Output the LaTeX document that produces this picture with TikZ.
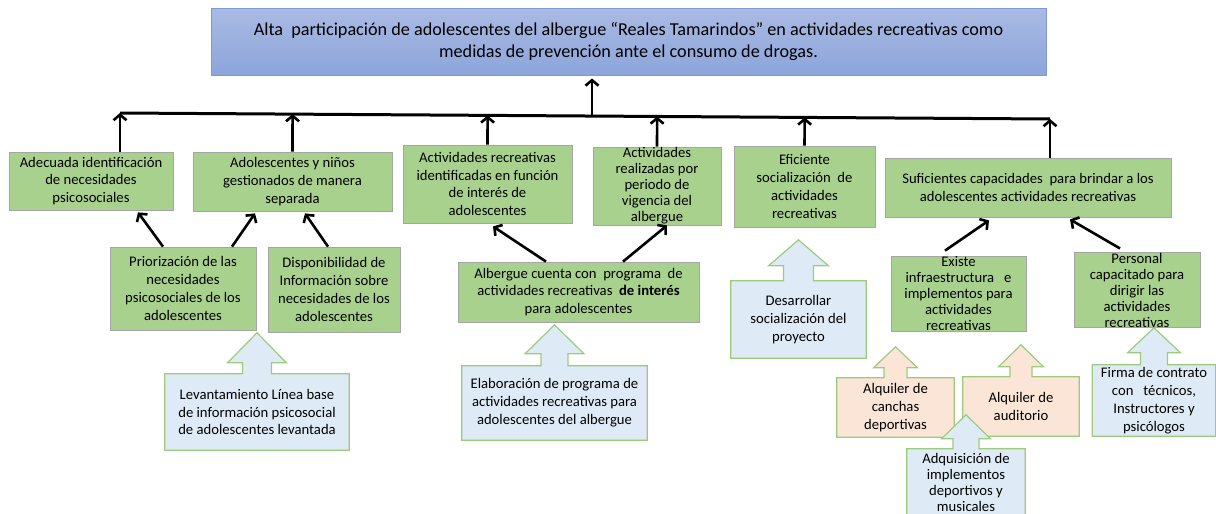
\documentclass[tikz,border=0pt]{standalone}
\usepackage{fontspec}
\setmainfont{Carlito}
\usetikzlibrary{arrows.meta,backgrounds}

\definecolor{verde}{HTML}{A9D18E}
\definecolor{gris}{HTML}{A5A5A5}
\definecolor{celeste}{HTML}{DEEBF7}
\definecolor{durazno}{HTML}{FBE5D6}
\definecolor{bordeverde}{HTML}{9CCB7C}
\definecolor{azularriba}{HTML}{AABAE3}
\definecolor{azulabajo}{HTML}{8CA5DB}
\definecolor{azulborde}{HTML}{7E9AD3}

\newcommand\letra{\fontsize{14.67}{17.9}\selectfont}
\newcommand\letrachica{\fontsize{14.67}{16}\selectfont}
\newcommand\letragrande{\fontsize{18.2}{22.5}\selectfont}

% flecha de bloque: nodo, relleno, medio cuerpo, media punta, largo cuerpo, largo punta
\newcommand\bloque[6]{%
	\begin{scope}[on background layer]
		\filldraw[fill=#2,draw=bordeverde,line width=1.2pt]
			(#1.south west) -- (#1.north west) -- ([xshift=-#3]#1.north) -- ++(0,-#5)
			-- ++({#3-#4},0) -- ++(#4,-#6) -- ++(#4,#6) -- ++({#3-#4},0) -- ++(0,#5)
			-- (#1.north east) -- (#1.south east) -- cycle;
	\end{scope}}

\begin{document}
\begin{tikzpicture}[x=1pt,y=-1pt,
	fin/.style={draw=azulborde,line width=1pt,top color=azularriba,bottom color=azulabajo,align=center,font=\letragrande,inner sep=2pt},
	medio/.style={draw=gris,line width=0.8pt,fill=verde,align=center,font=\letra,inner sep=2pt},
	accion/.style={align=center,font=\letra,inner sep=2pt},
	flecha/.style={line width=2.6pt,-{Straight Barb[length=5.5pt,width=13pt]}},
	linea/.style={line width=3pt}]
	\useasboundingbox (0,0) rectangle (1216,514);

	\node[fin,minimum width=835,minimum height=67] (fin) at (628.5,41.5) {Alta\ \ participación de adolescentes del albergue “Reales Tamarindos” en actividades recreativas como\\medidas de prevención ante el consumo de drogas.};

	\coordinate (izq) at (120,113);
	\coordinate (der) at (1050,119);
	\coordinate (cruce) at (592,116);
	\draw[linea] (izq) -- (der);
	\draw[flecha] (cruce) -- ([yshift=-3pt]fin.south -| cruce);

	\node[medio,minimum width=164,minimum height=58] (m1) at (91,181) {Adecuada identificación\\de necesidades\\psicosociales};
	\node[medio,minimum width=199,minimum height=59] (m2) at (292.5,181.5) {Adolescentes y niños\\gestionados de manera\\separada};
	\node[medio,minimum width=169,minimum height=78] (m3) at (487.5,184) {Actividades recreativas\\identificadas en función\\de interés de\\adolescentes};
	\node[medio,font=\letrachica,inner ysep=0pt,minimum width=128,minimum height=78] (m4) at (657,186) {Actividades\\realizadas por\\periodo de\\vigencia del\\albergue};
	\node[medio,minimum width=141,minimum height=81] (m5) at (804.5,186.5) {Eficiente\\socialización\ \ de\\actividades\\recreativas};
	\node[medio,minimum width=286,minimum height=59] (m6) at (1028,187.5) {Suficientes capacidades\ \ para brindar a los\\adolescentes actividades recreativas};

	\draw[flecha] (m1.north -| izq) -- (izq);
	\draw[flecha] (m2.north) -- (intersection of m2.north--m2.south and izq--der);
	\draw[flecha] (m3.north) -- (intersection of m3.north--m3.south and izq--der);
	\draw[flecha] (m4.north) -- (intersection of m4.north--m4.south and izq--der);
	\draw[flecha] (m5.north) -- (intersection of m5.north--m5.south and izq--der);
	\draw[flecha] (m6.north -| der) -- (der);

	\node[medio,minimum width=146,minimum height=83] (p1) at (183,288.5) {Priorización de las\\necesidades\\psicosociales de los\\adolescentes};
	\node[medio,minimum width=132,minimum height=85] (p2) at (334,289.5) {Disponibilidad de\\Información sobre\\necesidades de los\\adolescentes};
	\node[medio,minimum width=241,minimum height=60] (p3) at (578.5,292) {Albergue cuenta con\ \ programa\ \ de\\actividades recreativas\ \ \textbf{de interés}\\para adolescentes};
	\node[medio,font=\letrachica,inner ysep=0pt,minimum width=135,minimum height=75] (p4) at (958.5,293.5) {Existe\\infraestructura\ \ \ e\\implementos para\\actividades\\recreativas};
	\node[medio,font=\letrachica,inner ysep=0pt,minimum width=126,minimum height=74] (p5) at (1137,290) {Personal\\capacitado para\\dirigir las\\actividades\\recreativas};

	\draw[flecha] ([xshift=-20]p1.north) -- ([xshift=47,yshift=-2]m1.south);
	\draw[flecha] ([xshift=49]p1.north) -- ([xshift=-37.5,yshift=-2]m2.south);
	\draw[flecha] ([xshift=-6]p2.north) -- ([xshift=12.5,yshift=-2]m2.south);
	\draw[flecha] ([xshift=-32.5]p3.north) -- ([xshift=5.5,yshift=-3]m3.south);
	\draw[flecha] ([xshift=44.5]p3.north) -- ([xshift=10]m4.south);
	\draw[flecha] ([xshift=-13.5,yshift=5]p4.north) -- ([xshift=-39,yshift=-3]m6.south);
	\draw[flecha] ([xshift=-17,yshift=4]p5.north) -- ([xshift=42,yshift=-2]m6.south);

	\node[accion,minimum width=184,minimum height=76] (a1) at (257,412) {Levantamiento Línea base\\de información psicosocial\\de adolescentes levantada};
	\bloque{a1}{celeste}{14.5}{29.5}{11}{30}
	\node[accion,minimum width=185,minimum height=74] (a2) at (554.5,403) {Elaboración de programa de\\actividades recreativas para\\adolescentes del albergue};
	\bloque{a2}{celeste}{13.5}{29.5}{12}{29}
	\node[accion,minimum width=135,minimum height=77] (a3) at (798.5,319.5) {Desarrollar\\socialización del\\proyecto};
	\bloque{a3}{celeste}{15}{30}{15}{26}
	\node[accion,minimum width=117,minimum height=59] (a4) at (895.5,407.5) {Alquiler de\\canchas\\deportivas};
	\bloque{a4}{durazno}{11.5}{22}{10}{21}
	\node[accion,minimum width=116,minimum height=59] (a5) at (1021,406.5) {Alquiler de\\auditorio};
	\bloque{a5}{durazno}{11}{22.5}{10}{22}
	\node[accion,minimum width=123,minimum height=71] (a7) at (1154,400.5) {Firma de contrato\\con\ \ \ técnicos,\\Instructores y\\psicólogos};
	\bloque{a7}{celeste}{13.5}{26.5}{12}{25}
	\node[accion,font=\letrachica,inner ysep=0pt,minimum width=118,minimum height=66] (a6) at (966,482) {Adquisición de\\implementos\\deportivos y\\musicales};
	\bloque{a6}{celeste}{13}{24.5}{10}{24}
\end{tikzpicture}
\end{document}
